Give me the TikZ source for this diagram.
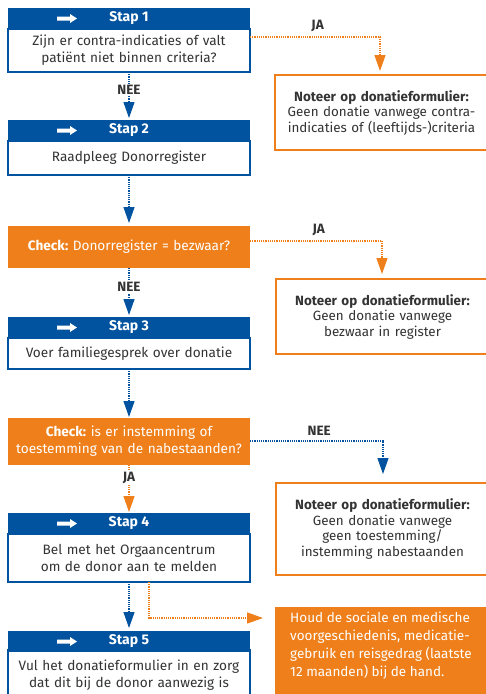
\documentclass[tikz,border=0pt]{standalone}
\usepackage{fontspec}
\setmainfont{Fira Sans}
\usetikzlibrary{arrows.meta,calc}
\definecolor{rblue}{HTML}{01529F}
\definecolor{rorange}{HTML}{EE7F1A}
\definecolor{txt}{HTML}{333333}
\newcommand{\hdrarrow}[1]{\fill[white,shift={(#1.west)}] (49,-2) -- (62,-2) -- (62,-4.5) -- (69,0) -- (62,4.5) -- (62,2) -- (49,2) -- cycle;}
\frenchspacing
\begin{document}
\frenchspacing
\begin{tikzpicture}[x=1pt,y=-1pt,
  hdr/.style={fill=rblue, text=white, font=\fontsize{14}{15}\selectfont\bfseries, minimum width=242pt, minimum height=21pt, anchor=north west, inner sep=0pt, outer sep=0pt},
  body/.style={draw=rblue, line width=1.2pt, fill=white, text=txt, minimum width=242pt, anchor=north west, text width=238pt, align=center, inner sep=0pt, outer sep=0pt, font=\fontsize{13.6}{17}\selectfont},
  check/.style={fill=rorange, text=white, minimum width=242pt, anchor=north west, text width=238pt, align=center, inner sep=0pt, outer sep=0pt, font=\fontsize{13.6}{17}\selectfont},
  note/.style={draw=rorange, line width=1.5pt, fill=white, text=txt, minimum width=213pt, anchor=north west, text width=209pt, align=center, inner sep=0pt, outer sep=0pt, font=\fontsize{13.4}{15.5}\selectfont},
  bflow/.style={draw=rblue, line width=1.2pt, dash pattern=on 1.2pt off 1pt, -{Triangle[length=16pt,width=11pt]}},
  oflow/.style={draw=rorange, line width=1.2pt, dash pattern=on 1.2pt off 1pt, -{Triangle[length=16pt,width=11pt]}},
  lbl/.style={text=txt, font=\fontsize{13.5}{15}\selectfont\bfseries, fill=white, inner sep=1.5pt}
]
\useasboundingbox (0,0) rectangle (485,694);

% Step 1
\node[body, minimum height=43pt] (s1) at (8,29) {Zijn er contra-indicaties of valt\\patiënt niet binnen criteria?};
\node[hdr] (s1h) at (8,8) {Stap 1};
\hdrarrow{s1h}

% Note 1
\node[note, minimum height=75pt] (n1) at (275,75) {\textbf{Noteer op donatieformulier:}\\Geen donatie vanwege contra-\\indicaties of (leeftijds-)criteria};

% Step 2
\node[body, minimum height=34pt] (s2) at (8,141) {Raadpleeg Donorregister};
\node[hdr] (s2h) at (8,120) {Stap 2};
\hdrarrow{s2h}

% Check 1
\node[check, minimum height=42pt] (c1) at (8,226) {\textbf{Check:} Donorregister = bezwaar?};

% Note 2
\node[note, minimum height=75pt] (n2) at (276,279) {\textbf{Noteer op donatieformulier:}\\Geen donatie vanwege\\bezwaar in register};

% Step 3
\node[body, minimum height=31pt] (s3) at (8,338) {Voer familiegesprek over donatie};
\node[hdr] (s3h) at (8,317) {Stap 3};
\hdrarrow{s3h}

% Check 2
\node[check, minimum height=47pt] (c2) at (8,418) {\textbf{Check:} is er instemming of\\toestemming van de nabestaanden?};

% Note 3
\node[note, minimum height=92pt] (n3) at (276,483) {\textbf{Noteer op donatieformulier:}\\Geen donatie vanwege\\geen toestemming/\\instemming nabestaanden};

% Step 4
\node[body, minimum height=48pt] (s4) at (8,534) {Bel met het Orgaancentrum\\om de donor aan te melden};
\node[hdr] (s4h) at (8,513) {Stap 4};
\hdrarrow{s4h}

% Step 5
\node[body, minimum height=50pt] (s5) at (8,650) {Vul het donatieformulier in en zorg\\dat dit bij de donor aanwezig is};
\node[hdr] (s5h) at (8,631) {Stap 5};
\hdrarrow{s5h}

% Orange info box
\node[fill=rorange, minimum width=213pt, minimum height=100pt, anchor=north west, inner sep=0pt, outer sep=0pt] (o) at (275,607) {};
\node[text=white, anchor=north west, align=left, inner sep=0pt, font=\fontsize{13.5}{18}\selectfont] (otext) at (290,612) {Houd de sociale en medische\\voorgeschiedenis, medicatie-\\gebruik en reisgedrag (laatste\\12 maanden) bij de hand.};

% Connectors
\draw[bflow, shorten >=2pt] (s1.south) -- node[lbl, pos=.38] {NEE} (s2h.north);
\draw[oflow, shorten >=4pt] ([yshift=-8pt]s1.north east) -| node[lbl, pos=.26, above=3pt, fill=none] {JA} (n1.north -| 380,0);
\draw[bflow, shorten >=3pt] (s2.south) -- (c1.north);
\draw[oflow, shorten >=5pt] ([yshift=-15pt]c1.north east) -| node[lbl, pos=.26, above=3pt, fill=none] {JA} (n2.north -| 382,0);
\draw[bflow, shorten >=2pt] (c1.south) -- node[lbl, pos=.39] {NEE} (s3h.north);
\draw[bflow, shorten >=1pt] (s3.south) -- (c2.north);
\draw[bflow, shorten >=9pt] ([yshift=-23pt]c2.north east) -| node[lbl, pos=.26, above=3pt, fill=none] {NEE} (n3.north -| 383,0);
\draw[oflow, shorten >=1pt] (c2.south) -- node[lbl, pos=.26] {JA} (s4h.north);
\draw[bflow, shorten >=3pt] (s4.south) -- (s5h.north);
\draw[oflow, shorten >=12pt] ([xshift=20pt]s4.south) |- ([yshift=-11pt]o.north west);
\end{tikzpicture}
\end{document}
